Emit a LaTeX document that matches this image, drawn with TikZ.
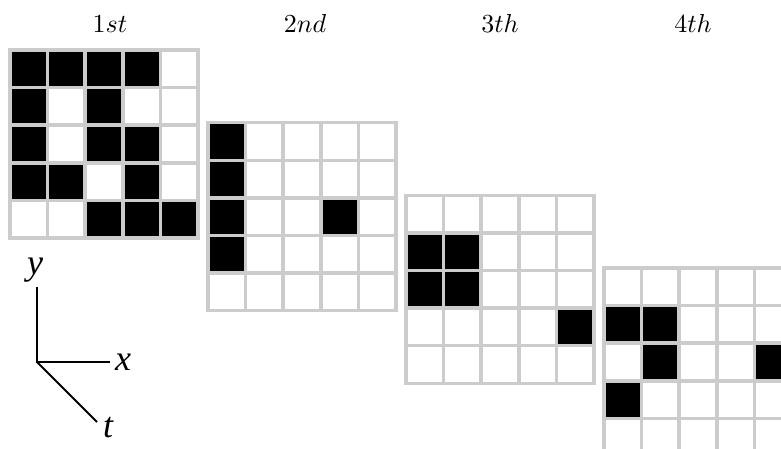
\documentclass[tikz,border=0pt]{standalone}
\usepackage{fontspec}
\newfontfamily\axisfont{Liberation Serif}
\definecolor{gridgray}{RGB}{204,204,204}
\usetikzlibrary{positioning}

\newcommand{\cellsize}{37.6}
% one 5x5 frame: top-left corner, list of black cells col/row
\newcommand{\pixframe}[3]{%
  \begin{scope}[shift={(#1,#2)}]
    \foreach \cx/\cy in {#3}
      \fill (\cx*\cellsize-\cellsize,\cy*\cellsize-\cellsize) rectangle ++(\cellsize,\cellsize);
    \foreach \i in {0,...,5} {
      \draw[gridline] (\i*\cellsize,0) -- (\i*\cellsize,5*\cellsize);
      \draw[gridline] (0,\i*\cellsize) -- (5*\cellsize,\i*\cellsize);
    }
  \end{scope}}

\tikzset{
  gridline/.style={gridgray, line width=3.5pt, line cap=rect},
  axisline/.style={line width=2.5pt},
  framelabel/.style={scale=2.6, anchor=base},
  axislabel/.style={font=\axisfont\itshape\fontsize{36}{40}\selectfont, anchor=base},
}

\begin{document}
\begin{tikzpicture}[x=1pt,y=-1pt]
    \useasboundingbox (0,0) rectangle (781,449);
    \clip (0,0) rectangle (781,449);

    % Frames
    \pixframe{10}{50}{1/1,2/1,3/1,4/1,1/2,3/2,1/3,3/3,4/3,1/4,2/4,4/4,3/5,4/5,5/5}
    \pixframe{208}{122.7}{1/1,1/2,1/3,4/3,1/4}
    \pixframe{406}{195.3}{1/2,2/2,1/3,2/3,5/4}
    \pixframe{604}{268}{1/2,2/2,2/3,5/3,1/4}

    % Frame labels
    \node[framelabel] (lbl1) at (110,33) {$1st$};
    \node[framelabel] (lbl2) at (305,33) {$2nd$};
    \node[framelabel] (lbl3) at (500,33) {$3th$};
    \node[framelabel] (lbl4) at (693,33) {$4th$};

    % Axes
    \coordinate (origin) at (37,362);
    \coordinate (ytip) at (37,287);
    \coordinate (xtip) at (110,362);
    \coordinate (ttip) at (97,422);
    \draw[axisline] (ytip) -- (origin) -- (xtip);
    \draw[line width=2pt] (origin) -- (ttip);

    \node[axislabel] (ylbl) at (35,274) {y};
    \node[axislabel] (xlbl) at (123,370) {x};
    \node[axislabel] (tlbl) at (108,437) {t};
\end{tikzpicture}
\end{document}
